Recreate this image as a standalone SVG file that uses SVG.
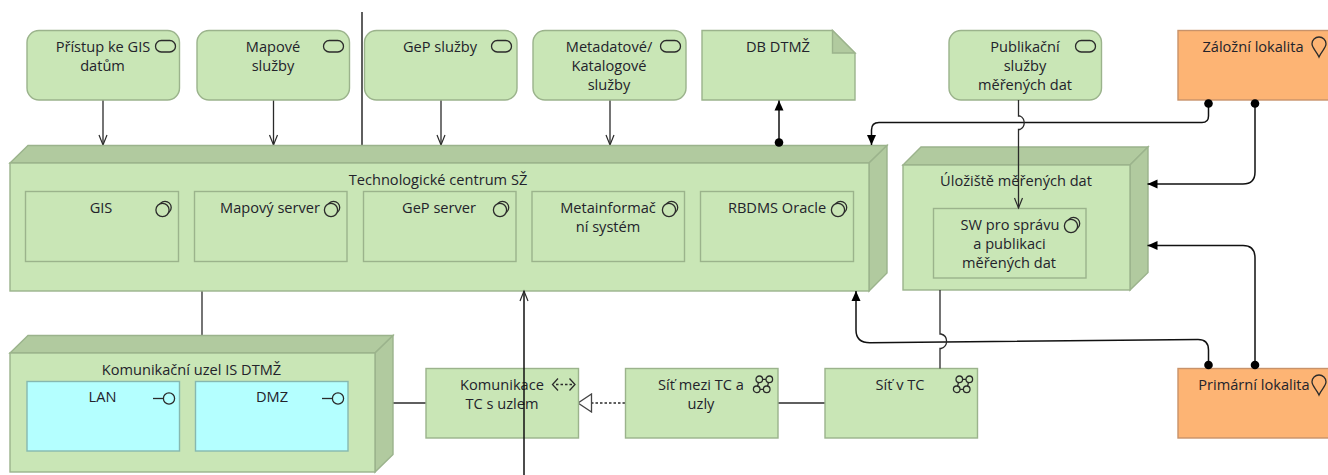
<svg xmlns="http://www.w3.org/2000/svg" width="1328" height="475" viewBox="0 0 1328 475">
<style>
text{font-family:"Open Sans","Noto Sans","Liberation Sans",sans-serif;font-size:14.6px;fill:#23232b;text-anchor:middle}
.f{fill:#c9e6b6;stroke:#9bb38c;stroke-width:1.4}
.d{fill:#b1ca9f;stroke:#9bb38c;stroke-width:1.4}
.o{fill:#fdb474;stroke:#c8926a;stroke-width:1.4}
.c{fill:#b4ffff;stroke:#86b8b0;stroke-width:1.4}
.i{fill:none;stroke:#2b2b2b;stroke-width:1.3}
.ib{fill:#c9e6b6;stroke:#2b2b2b;stroke-width:1.3}
.l{fill:none;stroke:#2a2a2a;stroke-width:1.3}
.h{fill:none;stroke:#111;stroke-width:1.5}
</style>
<defs>
<marker id="open" markerUnits="userSpaceOnUse" markerWidth="14" markerHeight="14" refX="11" refY="6" orient="auto"><path d="M1 2 L11 6 L1 10" fill="none" stroke="#2a2a2a" stroke-width="1.2"/></marker>
<marker id="solid" markerUnits="userSpaceOnUse" markerWidth="14" markerHeight="14" refX="11" refY="6" orient="auto"><path d="M1 1.500 L11 6 L1 10.500 Z" fill="#000"/></marker>
<marker id="dot" markerUnits="userSpaceOnUse" markerWidth="10" markerHeight="10" refX="5" refY="5" orient="auto"><circle cx="5" cy="5" r="4.300" fill="#000"/></marker>
<marker id="hollow" markerUnits="userSpaceOnUse" markerWidth="18" markerHeight="20" refX="15" refY="10" orient="auto"><path d="M1.500 1 L15 10 L1.500 19 Z" fill="#fff" stroke="#444" stroke-width="1.3"/></marker>
<g id="svc"><rect x="0" y="0" width="20" height="11.500" rx="5.750" class="i"/></g>
<g id="sys"><circle cx="2.500" cy="-2.500" r="6.200" class="i"/><circle cx="0" cy="0" r="6.600" class="ib"/></g>
<g id="pin"><path d="M7 20 C4.500 14 0 11 0 6.800 A7 6.800 0 0 1 14 6.800 C14 11 9.500 14 7 20 Z" class="i"/></g>
<g id="net"><path d="M6.300 3.300 H16.300 L13.700 13.300 H3.700 Z" class="i"/><circle cx="6.300" cy="3.300" r="3.300" class="ib"/><circle cx="16.300" cy="3.300" r="3.300" class="ib"/><circle cx="3.700" cy="13.300" r="3.300" class="ib"/><circle cx="13.700" cy="13.300" r="3.300" class="ib"/></g>
<g id="ifc"><path d="M0 0 H10" class="i"/><circle cx="16" cy="0" r="5.600" class="i"/></g>
</defs>

<g id="connectors">
<path class="l" d="M103 100 V145" marker-end="url(#open)"/>
<path class="l" d="M273.500 100 V145" marker-end="url(#open)"/>
<path class="l" d="M441 100 V145" marker-end="url(#open)"/>
<path class="l" d="M610 100 V145" marker-end="url(#open)"/>
<path class="l" d="M362 12 V146" style="stroke-width:1.500"/>
<path class="l" d="M202 291 V336"/>
<path class="l" d="M393 403 H426"/>
<path class="l" d="M778 403 H825"/>
<path class="l" d="M625 403 H578" stroke-dasharray="2.500 2" marker-end="url(#hollow)"/>
</g>

<g id="tc">
<path class="d" d="M10 163 L28 145.500 H887 L869 163 Z"/>
<path class="d" d="M869 163 L887 145.500 V273 L869 291 Z"/>
<rect class="f" x="10" y="163" width="859" height="128"/>
<text x="438" y="185">Technologické centrum SŽ</text>
</g>
<g id="gis"><rect class="f" x="25.500" y="191.500" width="153" height="70"/><text x="101" y="213">GIS</text><use href="#sys" x="162.500" y="210"/></g>
<g id="mapserver"><rect class="f" x="194.500" y="191.500" width="152.500" height="70"/><text x="270" y="213">Mapový server</text><use href="#sys" x="331" y="210"/></g>
<g id="gepserver"><rect class="f" x="363.500" y="191.500" width="152.500" height="70"/><text x="439" y="213">GeP server</text><use href="#sys" x="500" y="210"/></g>
<g id="metainfo"><rect class="f" x="532" y="191.500" width="152.500" height="70"/><text x="608" y="213">Metainformač</text><text x="608" y="232">ní systém</text><use href="#sys" x="669" y="210"/></g>
<g id="rbdms"><rect class="f" x="700.500" y="191.500" width="153" height="70"/><text x="777" y="213">RBDMS Oracle</text><use href="#sys" x="838" y="210"/></g>

<g id="s1"><rect class="f" x="27" y="30.500" width="152.500" height="69.500" rx="12"/><text x="103" y="52">Přístup ke GIS</text><text x="102.500" y="71">datům</text><use href="#svc" x="155.500" y="40.500"/></g>
<g id="s2"><rect class="f" x="197" y="30.500" width="152.500" height="69.500" rx="12"/><text x="273" y="52">Mapové</text><text x="273" y="71">služby</text><use href="#svc" x="323.500" y="40.500"/></g>
<g id="s3"><rect class="f" x="364.500" y="30.500" width="152.500" height="69.500" rx="12"/><text x="440" y="52">GeP služby</text><use href="#svc" x="491.500" y="40.500"/></g>
<g id="s4"><rect class="f" x="533" y="30.500" width="153" height="69.500" rx="12"/><text x="609" y="52">Metadatové/</text><text x="609" y="71">Katalogové</text><text x="609" y="90">služby</text><use href="#svc" x="660.500" y="40.500"/></g>
<g id="db"><path class="f" d="M702 30.500 H832.500 L855 53 V100 H702 Z"/><path class="d" d="M832.500 30.500 L855 53 H832.500 Z"/><text x="778" y="52">DB DTMŽ</text></g>
<g id="s5"><rect class="f" x="949" y="30.500" width="152.500" height="69.500" rx="12"/><text x="1025" y="52">Publikační</text><text x="1025" y="71">služby</text><text x="1025" y="90">měřených dat</text><use href="#svc" x="1075.500" y="40.500"/></g>
<g id="zaloha"><rect class="o" x="1178" y="30.500" width="155" height="69.500"/><text x="1253" y="52">Záložní lokalita</text><use href="#pin" x="1312" y="37"/></g>

<g id="storage">
<path class="d" d="M903 165 L921 147 H1148 L1130 165 Z"/>
<path class="d" d="M1130 165 L1148 147 V272.500 L1130 290 Z"/>
<rect class="f" x="903" y="165" width="227" height="125"/>
<text x="1016" y="186">Úložiště měřených dat</text>
</g>
<g id="sw"><rect class="f" x="933.500" y="208.500" width="152.500" height="69.500"/><text x="1010" y="230">SW pro správu</text><text x="1009.500" y="249">a publikaci</text><text x="1009" y="268">měřených dat</text><use href="#sys" x="1071" y="226"/></g>

<g id="uzel">
<path class="d" d="M10 353 L28 335.500 H393 L375 353 Z"/>
<path class="d" d="M375 353 L393 335.500 V454.500 L375 472 Z"/>
<rect class="f" x="10" y="353" width="365" height="119"/>
<text x="191.500" y="375">Komunikační uzel IS DTMŽ</text>
</g>
<g id="lan"><rect class="c" x="27" y="381.500" width="152.500" height="69.500"/><text x="102.500" y="402">LAN</text><use href="#ifc" x="153" y="398.500"/></g>
<g id="dmz"><rect class="c" x="195.500" y="381.500" width="152.500" height="69.500"/><text x="272" y="402">DMZ</text><use href="#ifc" x="322" y="398.500"/></g>

<g id="komunikace"><rect class="f" x="426" y="368.500" width="152.500" height="69.500"/><text x="502" y="390">Komunikace</text><text x="502" y="409">TC s uzlem</text><path class="i" d="M558 378.500 L552.500 384.500 L558 390.500 M569.500 378.500 L575 384.500 L569.500 390.500"/><path class="i" d="M556 384.500 H572" stroke-dasharray="2.500 2"/></g>
<g id="sitmezi"><rect class="f" x="625.500" y="368.500" width="152.500" height="69.500"/><text x="701" y="390">Síť mezi TC a</text><text x="701" y="409">uzly</text><use href="#net" x="753" y="376"/></g>
<g id="sitvtc"><rect class="f" x="825" y="368.500" width="152.500" height="69.500"/><text x="900" y="390">Síť v TC</text><use href="#net" x="953" y="376"/></g>
<g id="primar"><rect class="o" x="1178" y="368.500" width="155" height="69.500"/><text x="1254" y="390">Primární lokalita</text><use href="#pin" x="1312" y="375"/></g>

<g id="connectors-over">
<path class="h" d="M524 475 V291" marker-end="url(#open)"/>
<path class="h" d="M779 142.500 V100.500" marker-start="url(#dot)" marker-end="url(#solid)"/>
<path class="h" d="M1208.500 103.500 V116 Q1208.500 122.500 1202 122.500 H879 Q871.500 122.500 871.500 130 V145" marker-start="url(#dot)" marker-end="url(#solid)"/>
<path class="h" d="M1255 103.500 V172 Q1255 184 1243 184 H1147.500" marker-start="url(#dot)" marker-end="url(#solid)"/>
<path class="h" d="M1255 365 V258 Q1255 245.500 1243 245.500 H1147.500" marker-start="url(#dot)" marker-end="url(#solid)"/>
<path class="h" d="M1208.500 365 V350 Q1208.500 339.500 1198 339.500 L870 342.800 Q856 342.800 856 330 V291" marker-start="url(#dot)" marker-end="url(#solid)"/>
<path class="l" d="M1018.500 100 V116 H1020 A7.500 7.500 0 0 1 1020 129.500 H1018.500 V208" marker-end="url(#open)"/>
<path class="l" d="M940 290 V334 H941 A7.500 7.500 0 0 1 941 348.500 H940 V368.500"/>
</g>
</svg>
